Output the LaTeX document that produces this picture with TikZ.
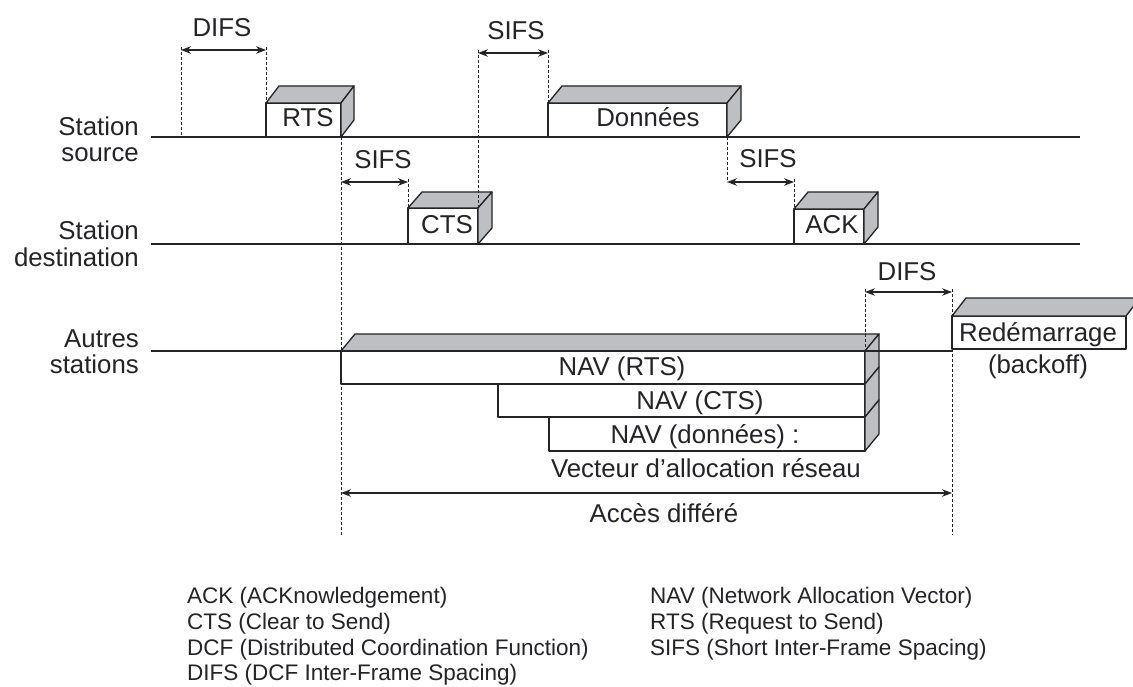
\documentclass[tikz,border=0pt]{standalone}
\usepackage{fontspec}
\setmainfont{Liberation Sans}
\usetikzlibrary{arrows.meta}
\definecolor{ink}{RGB}{35,35,40}
\definecolor{facegray}{RGB}{190,191,195}
% front box + top face + side face: x1,ytop,x2,ybottom,dx,dy
\newcommand\pktcube[6]{%
  \filldraw[boxline,fill=white] (#1,#2) rectangle (#3,#4);
  \filldraw[boxline,fill=facegray] (#1,#2) -- (#1+#5,#2-#6) -- (#3+#5,#2-#6) -- (#3,#2) -- cycle;
  \filldraw[boxline,fill=facegray] (#3,#2) -- (#3+#5,#2-#6) -- (#3+#5,#4-#6) -- (#3,#4) -- cycle;
}
\newcommand\pktside[4]{% x2, ytop, ybottom, dx
  \filldraw[boxline,fill=facegray] (#1,#2) -- (#1+#4,#2-17) -- (#1+#4,#3-17) -- (#1,#3) -- cycle;
}
\begin{document}
\begin{tikzpicture}[x=1pt,y=-1pt,
  timeline/.style={draw=ink, line width=1.2pt},
  boxline/.style={draw=ink, line width=1.3pt, line join=round},
  guide/.style={draw=ink, line width=0.8pt, dash pattern=on 3pt off 2pt},
  span/.style={draw=ink, line width=1.2pt, {Stealth[length=10pt,width=7.5pt]}-{Stealth[length=10pt,width=7.5pt]}},
  lbl/.style={font=\fontsize{25.8}{28}\selectfont, text=ink, anchor=base, inner sep=0pt},
  side/.style={font=\fontsize{25.8}{28}\selectfont, text=ink, anchor=base east, inner sep=0pt},
  leg/.style={font=\fontsize{22.5}{26}\selectfont, text=ink, anchor=base west, inner sep=0pt}]
\useasboundingbox (0,0) rectangle (1133,687);
\fill[white] (0,0) rectangle (1133,687);

% time lines
\coordinate (srcL) at (151,137); \coordinate (srcR) at (1080,137);
\coordinate (dstL) at (151,244); \coordinate (dstR) at (1080,244);
\coordinate (othL) at (151,351); \coordinate (othR) at (952,351);
\draw[timeline] (srcL) -- (srcR);
\draw[timeline] (dstL) -- (dstR);

% frames
\pktcube{266}{103}{341}{137}{13}{17}
\pktcube{548}{103}{727}{137}{14}{17}
\pktcube{408}{208}{478}{244}{14}{16}
\pktcube{794}{209}{864}{244}{14}{17}
% restart frame (cut by the right border)
\filldraw[boxline,fill=white] (952,316) rectangle (1126,349);
\filldraw[boxline,fill=facegray] (952,316) -- (966,298) -- (1140,298) -- (1126,316) -- cycle;

% NAV stack
\filldraw[boxline,fill=white] (341,351) rectangle (865,384);
\filldraw[boxline,fill=white] (498,384) rectangle (865,417);
\filldraw[boxline,fill=white] (549,417) rectangle (865,451);
\filldraw[boxline,fill=facegray] (341,351) -- (355,334) -- (879,334) -- (865,351) -- cycle;
\pktside{865}{351}{384}{14}
\pktside{865}{384}{417}{14}
\pktside{865}{417}{451}{14}
\draw[timeline] (othL) -- (othR);

% guides and spans
\coordinate (g1t) at (181,47);  \coordinate (g1b) at (181,137);
\coordinate (g2t) at (266,47);  \coordinate (g2b) at (266,103);
\draw[guide] (g1t) -- (g1b);
\draw[guide] (g2t) -- (g2b);
\coordinate (s1a) at (181,50); \coordinate (s1b) at (266,50);
\draw[span] (s1a) -- (s1b);

\coordinate (g3t) at (478,50);  \coordinate (g3b) at (478,208);
\coordinate (g4t) at (548,50);  \coordinate (g4b) at (548,103);
\draw[guide] (g3t) -- (g3b);
\draw[guide] (g4t) -- (g4b);
\coordinate (s2a) at (478,53); \coordinate (s2b) at (548,53);
\draw[span] (s2a) -- (s2b);

\coordinate (g5t) at (341,137); \coordinate (g5b) at (341,535);
\coordinate (g6t) at (408,179); \coordinate (g6b) at (408,208);
\draw[guide] (g5t) -- (g5b);
\draw[guide] (g6t) -- (g6b);
\coordinate (s3a) at (341,182); \coordinate (s3b) at (408,182);
\draw[span] (s3a) -- (s3b);

\coordinate (g7t) at (727,137); \coordinate (g7b) at (727,182);
\coordinate (g8t) at (794,179); \coordinate (g8b) at (794,209);
\draw[guide] (g7t) -- (g7b);
\draw[guide] (g8t) -- (g8b);
\coordinate (s4a) at (727,182); \coordinate (s4b) at (794,182);
\draw[span] (s4a) -- (s4b);

\coordinate (g9t) at (865,289); \coordinate (g9b) at (865,351);
\coordinate (g10t) at (952,289); \coordinate (g10b) at (952,535);
\draw[guide] (g9t) -- (g9b);
\draw[guide] (g10t) -- (g10b);
\coordinate (s5a) at (865,292); \coordinate (s5b) at (952,292);
\draw[span] (s5a) -- (s5b);

\coordinate (accA) at (341,493); \coordinate (accB) at (952,493);
\draw[span] (accA) -- (accB);

% interval labels
\node[lbl] (tDIFS1) at (222,37) {DIFS};
\node[lbl] (tSIFS1) at (516,40) {SIFS};
\node[lbl] (tSIFS2) at (383,169) {SIFS};
\node[lbl] (tSIFS3) at (768,168) {SIFS};
\node[lbl] (tDIFS2) at (907,280) {DIFS};

% frame labels
\node[lbl] (tRTS) at (308,127) {RTS};
\node[lbl] (tDATA) at (648,127) {Données};
\node[lbl] (tCTS) at (447,234) {CTS};
\node[lbl] (tACK) at (832,234) {ACK};
\node[lbl] (tRED) at (1038,341) {Redémarrage};
\node[lbl] (tBO) at (1038,373) {(backoff)};
\node[lbl] (tNAV1) at (622,375) {NAV (RTS)};
\node[lbl] (tNAV2) at (700,409) {NAV (CTS)};
\node[lbl] (tNAV3) at (705,443) {NAV (données) :};
\node[lbl] (tVEC) at (706,477) {Vecteur d’allocation réseau};
\node[lbl] (tACC) at (664,522) {Accès différé};

% station labels
\node[side] (st1a) at (139,136) {Station};
\node[side] (st1b) at (139,162) {source};
\node[side] (st2a) at (139,240) {Station};
\node[side] (st2b) at (139,266) {destination};
\node[side] (st3a) at (139,347) {Autres};
\node[side] (st3b) at (139,373) {stations};

% legend
\node[leg] (l1) at (187,603) {ACK (ACKnowledgement)};
\node[leg] (l2) at (187,629) {CTS (Clear to Send)};
\node[leg] (l3) at (187,655) {DCF (Distributed Coordination Function)};
\node[leg] (l4) at (187,680) {DIFS (DCF Inter-Frame Spacing)};
\node[leg] (r1) at (650,603) {NAV (Network Allocation Vector)};
\node[leg] (r2) at (650,629) {RTS (Request to Send)};
\node[leg] (r3) at (650,655) {SIFS (Short Inter-Frame Spacing)};
\end{tikzpicture}
\end{document}
